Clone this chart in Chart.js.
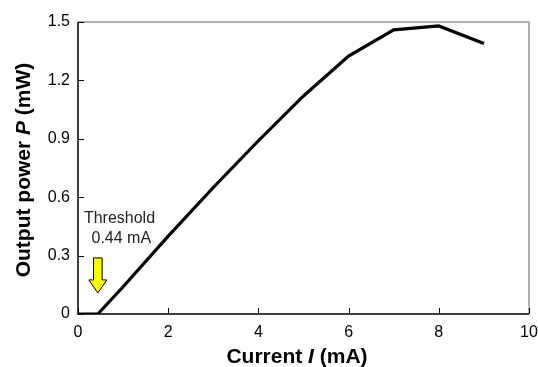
<!DOCTYPE html>
<html>
<head>
<meta charset="utf-8">
<script src="https://cdn.jsdelivr.net/npm/chart.js@4"></script>
<style>
    html, body { margin: 0; padding: 0; background: #fff; }
    #wrap { width: 538px; height: 367px; }
</style>
</head>
<body>
<div id="wrap"><canvas id="myChart" width="538" height="367"></canvas></div>
<script>
const currents = [0, 0.44, 1, 2, 3, 4, 5, 6, 7, 8, 9];
const powers = [0, 0, 0.14, 0.40, 0.65, 0.89, 1.12, 1.325, 1.46, 1.48, 1.39];
const xTicks = [0, 2, 4, 6, 8, 10];
const yTicks = [0, 0.3, 0.6, 0.9, 1.2, 1.5];
const thresholdCurrent = 0.44;
const thresholdLabel = ['Threshold', '0.44 mA'];

const FONT = '"Liberation Sans", Arial, sans-serif';

// draws inward ticks, frame, arrow, annotation and axis titles
const decorPlugin = {
    id: 'decor',
    afterDraw(chart) {
        const ctx = chart.ctx;
        const area = chart.chartArea;
        const xs = chart.scales.x;
        const ys = chart.scales.y;
        ctx.save();

        // gray top/right frame
        ctx.strokeStyle = '#999';
        ctx.lineWidth = 1.5;
        ctx.beginPath();
        ctx.moveTo(area.left, area.top);
        ctx.lineTo(area.right, area.top);
        ctx.lineTo(area.right, area.bottom);
        ctx.stroke();

        // black axes
        ctx.strokeStyle = '#000';
        ctx.lineWidth = 1.5;
        ctx.beginPath();
        ctx.moveTo(area.left, area.top);
        ctx.lineTo(area.left, area.bottom);
        ctx.lineTo(area.right, area.bottom);
        ctx.stroke();

        // inward ticks
        ctx.lineWidth = 1;
        ctx.beginPath();
        xTicks.forEach(v => {
            const px = Math.round(xs.getPixelForValue(v)) + 0.5;
            ctx.moveTo(px, area.bottom);
            ctx.lineTo(px, area.bottom - 6);
        });
        yTicks.forEach(v => {
            const py = Math.round(ys.getPixelForValue(v)) + 0.5;
            ctx.moveTo(area.left, py);
            ctx.lineTo(area.left + 6, py);
        });
        ctx.stroke();

        // threshold arrow
        const ax = xs.getPixelForValue(thresholdCurrent);
        const top = ys.getPixelForValue(0.288);
        const headTop = ys.getPixelForValue(0.175);
        const tip = ys.getPixelForValue(0.108);
        ctx.beginPath();
        ctx.moveTo(ax - 4.3, top);
        ctx.lineTo(ax + 4.3, top);
        ctx.lineTo(ax + 4.3, headTop);
        ctx.lineTo(ax + 9, headTop);
        ctx.lineTo(ax, tip);
        ctx.lineTo(ax - 9, headTop);
        ctx.lineTo(ax - 4.3, headTop);
        ctx.closePath();
        ctx.fillStyle = '#ffff00';
        ctx.fill();
        ctx.strokeStyle = '#000';
        ctx.lineWidth = 1;
        ctx.stroke();

        // annotation text
        ctx.fillStyle = '#222';
        ctx.font = '16px ' + FONT;
        ctx.textAlign = 'center';
        ctx.textBaseline = 'middle';
        ctx.fillText(thresholdLabel[0], xs.getPixelForValue(0.92), ys.getPixelForValue(0.488));
        ctx.fillText(thresholdLabel[1], xs.getPixelForValue(0.96), ys.getPixelForValue(0.385));

        // axis titles with italic symbols
        ctx.fillStyle = '#000';
        drawMixed(ctx, [['Current ', false], ['I', true], [' (mA)', false]],
            area.left + 219, 363, 0);
        drawMixed(ctx, [['Output power ', false], ['P', true], [' (mW)', false]],
            30, (area.top + area.bottom) / 2 + 2, -Math.PI / 2);

        ctx.restore();
    }
};

function drawMixed(ctx, parts, cx, cy, rot) {
    const fonts = parts.map(p => (p[1] ? 'italic bold 21px ' : 'bold 21px ') + FONT);
    let total = 0;
    const widths = parts.map((p, i) => {
        ctx.font = fonts[i];
        const w = ctx.measureText(p[0]).width;
        total += w;
        return w;
    });
    ctx.save();
    ctx.translate(cx, cy);
    ctx.rotate(rot);
    ctx.textAlign = 'left';
    ctx.textBaseline = 'alphabetic';
    let x = -total / 2;
    parts.forEach((p, i) => {
        ctx.font = fonts[i];
        ctx.fillText(p[0], x, 0);
        x += widths[i];
    });
    ctx.restore();
}

const ctx = document.getElementById('myChart').getContext('2d');
const myChart = new Chart(ctx, {
    type: 'scatter',
    data: {
        datasets: [{
            data: currents.map((c, i) => ({ x: c, y: powers[i] })),
            showLine: true,
            borderColor: '#000',
            borderWidth: 3.2,
            pointRadius: 0,
            tension: 0,
            borderJoinStyle: 'miter'
        }]
    },
    options: {
        responsive: false,
        animation: false,
        layout: { padding: { left: 0, right: 9, top: 22, bottom: 0 } },
        plugins: {
            legend: { display: false },
            tooltip: { enabled: false }
        },
        scales: {
            x: {
                type: 'linear',
                min: 0,
                max: 10,
                afterBuildTicks: s => { s.ticks = xTicks.map(v => ({ value: v })); },
                afterFit: s => {
                    s.height = 53;
                    s.paddingLeft = 0;
                    s.paddingRight = 0;
                },
                grid: { display: false, drawTicks: false },
                border: { display: false },
                ticks: {
                    color: '#000',
                    padding: 9,
                    font: { family: FONT, size: 16 },
                    maxRotation: 0
                }
            },
            y: {
                type: 'linear',
                min: 0,
                max: 1.5,
                afterBuildTicks: s => { s.ticks = yTicks.map(v => ({ value: v })); },
                afterFit: s => {
                    s.width = 78;
                    s.paddingTop = 0;
                    s.paddingBottom = 0;
                },
                grid: { display: false, drawTicks: false },
                border: { display: false },
                ticks: {
                    color: '#000',
                    padding: 8,
                    font: { family: FONT, size: 16 },
                    callback: v => (v === 0 ? '0' : v.toFixed(1))
                }
            }
        }
    },
    plugins: [decorPlugin]
});
</script>
</body>
</html>
